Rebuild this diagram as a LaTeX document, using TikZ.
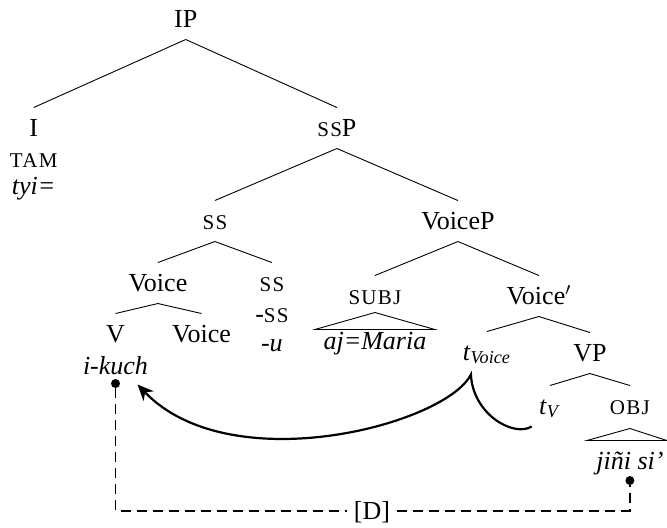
\documentclass[tikz,border=0pt]{standalone}
\usepackage{fontspec}
\setmainfont{Liberation Serif}
\newfontfamily\scfont[LetterSpace=6]{Liberation Serif}
\newcommand{\fakesc}[1]{{\scfont\fontsize{10.5}{12}\selectfont #1}}
\usetikzlibrary{arrows.meta,positioning}

\begin{document}
\begin{tikzpicture}[x=0.5pt, y=-0.5pt, on grid,
  catnode/.style={font=\fontsize{13}{15}\selectfont, inner sep=3.5pt, text height=10.6pt, text depth=2.5pt},
  bullet/.style={circle, fill=black, minimum size=4.5pt, inner sep=0pt, outer sep=0pt},
  branch/.style={line width=0.45pt},
  movearrow/.style={line width=1.1pt, -{Stealth[length=8pt,width=7pt,inset=2.5pt]}},
  agreeline/.style={line width=0.9pt, dash pattern=on 5pt off 3pt}]
  \useasboundingbox (0,0) rectangle (667,527);

  \node[catnode] (ip) at (185.7,19) {IP};
  \node[catnode, below left=54.5pt and 76pt of ip] (i) {I};
  \node[catnode, below right=54.5pt and 75.6pt of ip] (ssp) {\fakesc{SS}P};
  \node[catnode, below=15.5pt of i] (tam) {\fakesc{TAM}};
  \node[catnode, below=13.5pt of tam] (tyi) {\textit{tyi=}};
  \node[catnode, below left=46.5pt and 61pt of ssp] (ss) {\fakesc{SS}};
  \node[catnode, below right=46.5pt and 60.5pt of ssp] (voicep) {VoiceP};
  \node[catnode, below left=31pt and 28.5pt of ss] (voice) {Voice};
  \node[catnode, below right=31pt and 28.5pt of ss] (sshead) {\fakesc{SS}};
  \node[catnode, below=15.5pt of sshead] (ssmorph) {-\fakesc{SS}};
  \node[catnode, below=14.5pt of ssmorph] (umorph) {\textit{-u}};
  \node[catnode, below left=25.5pt and 21.2pt of voice] (v) {V};
  \node[catnode, below right=25.5pt and 21.8pt of voice] (voicehead) {Voice};
  \node[catnode, below=16pt of v] (ikuch) {\textit{i-kuch}};
  \node[catnode, below left=37.5pt and 41.5pt of voicep] (subj) {\fakesc{SUBJ}};
  \node[catnode, below right=37.5pt and 40.5pt of voicep] (voicebar) {Voice$'$};
  \node[catnode, below=22.5pt of subj] (maria) {\textit{aj=Maria}};
  \node[catnode, below left=28pt and 26pt of voicebar] (tvoice) {\textit{t}\textsubscript{\textit{Voice}}};
  \node[catnode, below right=28.5pt and 25.5pt of voicebar] (vp) {VP};
  \node[catnode, below left=26.5pt and 20pt of vp] (tv) {\textit{t}\textsubscript{\textit{V}}};
  \node[catnode, below right=26.5pt and 20pt of vp] (obj) {\fakesc{OBJ}};
  \node[catnode, below=27.5pt of obj] (jini) {\textit{jiñi si’}};
  \node[catnode] (dfeat) at (372,511) {[D]};

  \draw[branch] (ip.south) -- (i.north);
  \draw[branch] (ip.south) -- (ssp.north);
  \draw[branch] (ssp.south) -- (ss.north);
  \draw[branch] (ssp.south) -- (voicep.north);
  \draw[branch] (ss.south) -- (voice.north);
  \draw[branch] (ss.south) -- (sshead.north);
  \draw[branch] (voice.south) -- (v.north);
  \draw[branch] (voice.south) -- (voicehead.north);
  \draw[branch] (voicep.south) -- (subj.north);
  \draw[branch] (voicep.south) -- (voicebar.north);
  \draw[branch] (voicebar.south) -- (tvoice.north);
  \draw[branch] (voicebar.south) -- (vp.north);
  \draw[branch] (vp.south) -- (tv.north);
  \draw[branch] (vp.south) -- (obj.north);

  \draw[branch] ([yshift=2pt]subj.south) -- ([xshift=-30pt,yshift=-4.5pt]maria.north) -- ([xshift=30pt,yshift=-4.5pt]maria.north) -- cycle;
  \draw[branch] ([yshift=-1pt]obj.south) -- ([xshift=-21.5pt]jini.north) -- ([xshift=18.5pt]jini.north) -- cycle;

  \node[bullet] (dotv) at ([yshift=1.5pt]ikuch.south) {};
  \node[bullet] (doto) at ([yshift=0.5pt]jini.south) {};
  \draw[agreeline] (dotv) |- (dfeat);
  \draw[agreeline] (dfeat) -| (doto);

  \draw[movearrow] (tv.south west) .. controls +(-18,11) and +(2,40) .. ([xshift=-8pt,yshift=-1pt]tvoice.south) .. controls +(-25,50) and +(93,97) .. ([xshift=11pt,yshift=1pt]ikuch.south);
\end{tikzpicture}
\end{document}
